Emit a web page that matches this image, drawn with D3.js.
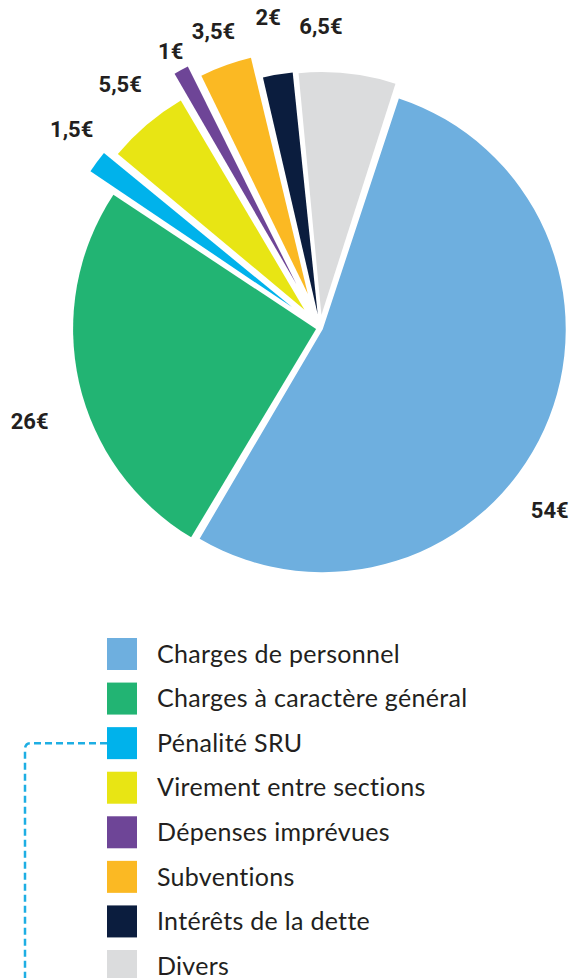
<!DOCTYPE html>
<html>
<head>
<meta charset="utf-8">
<script src="https://cdn.jsdelivr.net/npm/d3@7"></script>
<style>
  html, body { margin: 0; padding: 0; background: #fff; }
  svg { display: block; }
</style>
</head>
<body>
<div id="chart"></div>
<script>
//
// Budget pie (exploded) + legend
//

var categories = ["Charges de personnel", "Charges à caractère général", "Pénalité SRU", "Virement entre sections",
    "Dépenses imprévues", "Subventions", "Intérêts de la dette", "Divers"];
var amounts = [54, 26, 1.5, 5.5, 1, 3.5, 2, 6.5];
var amountLabels = ["54€", "26€", "1,5€", "5,5€", "1€", "3,5€", "2€", "6,5€"];

var _colors = ["#6eafdf", "#22b473", "#00b2eb", "#e8e514", "#6e4597", "#fbb923", "#0b1d3e", "#dbdcdd"];

// layout
const _width = 569;
const _height = 978;
const _cx = 320;
const _cy = 328;
const _radius = 243;
const _startDeg = 18;
var _explode = [3, 4, 35, 24, 50, 36, 14, 13];   // px pulled out along each slice's bisector
const _labelRadius = 315;
var _labelTweak = { 0: { da: 14, r: 293 }, 1: { da: -5, r: 305 }, 2: { da: 2, r: 318 }, 3: { da: 1 }, 7: { da: -6, r: 302 } };

var svg = d3.select("#chart")
    .append("svg")
    .attr("width", _width)
    .attr("height", _height);

var data = categories.map(function (c, i) {
    return { name: c, value: amounts[i], label: amountLabels[i], idx: i };
});

var start = _startDeg * Math.PI / 180;
var pie = d3.pie()
    .sort(null)
    .value(function (d) { return d.value; })
    .startAngle(start)
    .endAngle(start + 2 * Math.PI)
    .padAngle(0.009);

var arc = d3.arc()
    .innerRadius(0)
    .outerRadius(_radius);

var color = d3.scaleOrdinal().domain(categories).range(_colors);

var arcs = pie(data);

var pieG = svg.append("g")
    .attr("transform", "translate(" + _cx + "," + _cy + ")");

pieG.selectAll("path")
    .data(arcs)
    .enter()
    .append("path")
    .attr("d", arc)
    .attr("fill", function (d) { return color(d.data.name); })
    .attr("transform", function (d) {
        var mid = (d.startAngle + d.endAngle) / 2;
        var e = _explode[d.data.idx];
        return "translate(" + (Math.sin(mid) * e) + "," + (-Math.cos(mid) * e) + ")";
    });

function labelPos(d) {
    var t = _labelTweak[d.data.idx] || {};
    var a = (d.startAngle + d.endAngle) / 2 + (t.da || 0) * Math.PI / 180;
    var r = t.r || _labelRadius;
    return [Math.sin(a) * r, -Math.cos(a) * r];
}

// value labels
pieG.selectAll("text")
    .data(arcs)
    .enter()
    .append("text")
    .attr("x", function (d) { return labelPos(d)[0]; })
    .attr("y", function (d) { return labelPos(d)[1]; })
    .attr("dy", "0.36em")
    .style("text-anchor", "middle")
    .style("font-family", "Roboto, 'DejaVu Sans', sans-serif")
    .style("font-weight", "700")
    .style("font-size", "22px")
    .attr("fill", "#231f20")
    .text(function (d) { return d.data.label; });

// legend
var rowY = d3.scalePoint()
    .domain(categories)
    .range([638, 950]);

var sruY = rowY("Pénalité SRU") + 16;
svg.append("path")
    .attr("d", "M107," + sruY + " H31 Q25," + sruY + " 25," + (sruY + 6) + " V" + (_height + 5))
    .attr("fill", "none")
    .attr("stroke", "#1eaee3")
    .attr("stroke-width", 2.5)
    .attr("stroke-dasharray", "7,4");

var legend = svg.selectAll(".legendRow")
    .data(categories)
    .enter()
    .append("g")
    .attr("class", "legendRow")
    .attr("transform", function (d) { return "translate(107," + rowY(d) + ")"; });

legend.append("rect")
    .attr("width", 30)
    .attr("height", 32)
    .attr("fill", function (d) { return color(d); });

legend.append("text")
    .attr("x", 50)
    .attr("y", 16)
    .attr("dy", "0.35em")
    .style("font-family", "Lato, 'Open Sans', sans-serif")
    .style("font-weight", "400")
    .style("font-size", "25px")
    .style("letter-spacing", "0.3px")
    .attr("fill", "#231f20")
    .text(function (d) { return d; });
</script>
</body>
</html>
